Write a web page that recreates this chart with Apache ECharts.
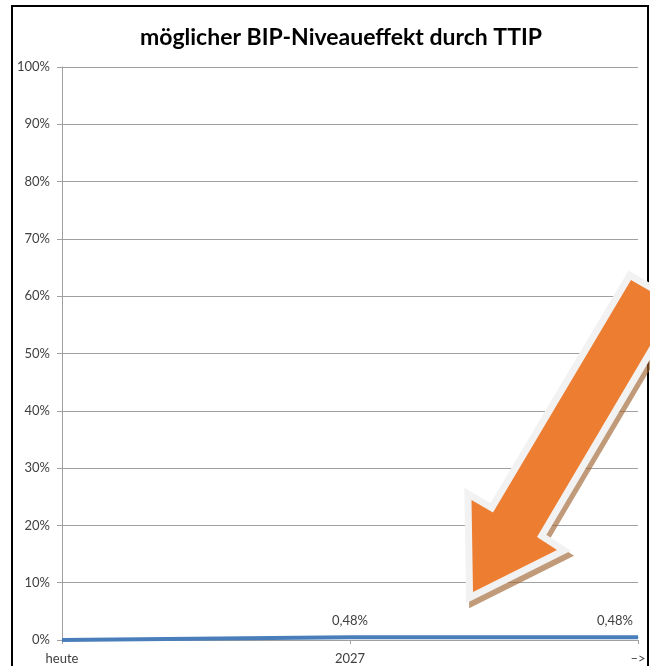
<!DOCTYPE html>
<html>
<head>
<meta charset="utf-8">
<script src="https://cdn.jsdelivr.net/npm/echarts@6/dist/echarts.min.js"></script>
<style>
html,body{margin:0;padding:0;background:#fff;}
#chart{width:650px;height:666px;}
</style>
</head>
<body>
<div id="chart"></div>
<script>
// ---- data ----
const titleText = 'möglicher BIP-Niveaueffekt durch TTIP';
const categories = ['heute', '2027', '–>'];
const bipEffect = [0, 0.48, 0.48];           // percent
const yTicks = [0, 10, 20, 30, 40, 50, 60, 70, 80, 90, 100];

const chart = echarts.init(document.getElementById('chart'), null, {renderer: 'canvas'});

// arrow decoration (pixel outline)
const arrowPts = [[473,592],[471.5,500],[493,512.5],[631,280],[674,305],[537,537],[557,550]];

const fmtDE = v => v.toFixed(2).replace('.', ',') + '%';

const seriesData = bipEffect.map((v, i) => {
  const item = {value: v};
  if (i === 0) item.label = {show: false};
  return item;
});

chart.setOption({
  animation: false,
  backgroundColor: '#ffffff',
  title: {
    text: titleText,
    left: 135,
    top: 21,
    textStyle: {fontFamily: 'Lato', fontWeight: 'bold', fontSize: 23, color: '#000'}
  },
  grid: {left: 62, right: 12, top: 67, bottom: 26, containLabel: false},
  xAxis: {
    type: 'category',
    data: categories,
    boundaryGap: false,
    axisLine: {show: true, lineStyle: {color: '#a0a0a0', width: 1}},
    axisTick: {show: true, length: 4, lineStyle: {color: '#a0a0a0'}},
    axisLabel: {margin: 12, fontFamily: 'Lato', fontSize: 13, color: '#404040'},
    splitLine: {show: false}
  },
  yAxis: {
    type: 'value',
    min: yTicks[0],
    max: yTicks[yTicks.length - 1],
    interval: yTicks[1] - yTicks[0],
    axisLine: {show: true, lineStyle: {color: '#a0a0a0', width: 1}},
    axisTick: {show: true, length: 5, lineStyle: {color: '#a0a0a0'}},
    axisLabel: {margin: 12, formatter: '{value}%', fontFamily: 'Lato', fontSize: 13, color: '#404040'},
    splitLine: {show: true, lineStyle: {color: '#a0a0a0', width: 1}}
  },
  series: [{
    type: 'line',
    data: seriesData,
    symbol: 'circle',
    symbolSize: 1,
    showSymbol: true,
    showAllSymbol: true,
    itemStyle: {color: '#4a7ebb'},
    lineStyle: {color: '#4a7ebb', width: 4},
    label: {
      show: true,
      position: 'top',
      distance: 9,
      formatter: p => fmtDE(p.value),
      fontFamily: 'Lato',
      fontSize: 13,
      color: '#404040'
    },
    labelLayout: p => (p.dataIndex === bipEffect.length - 1 ? {dx: -23, hideOverlap: false} : {hideOverlap: false}),
    z: 3
  }],
  graphic: [
    {
      type: 'rect', z: 50, silent: true,
      shape: {x: 12, y: 6, width: 636, height: 680},
      style: {fill: 'none', stroke: '#000', lineWidth: 2}
    },
    {
      type: 'polygon', z: 60, silent: true, x: 3, y: 5,
      shape: {points: arrowPts},
      style: {fill: 'rgba(160,100,50,0.65)', stroke: 'rgba(160,100,50,0.65)', lineWidth: 14, lineJoin: 'miter', miterLimit: 10}
    },
    {
      type: 'polygon', z: 61, silent: true,
      shape: {points: arrowPts},
      style: {fill: '#f2f2f2', stroke: '#f2f2f2', lineWidth: 14, lineJoin: 'miter', miterLimit: 10}
    },
    {
      type: 'polygon', z: 62, silent: true,
      shape: {points: arrowPts},
      style: {fill: '#ed7d31', stroke: 'none'}
    }
  ]
});
</script>
</body>
</html>
